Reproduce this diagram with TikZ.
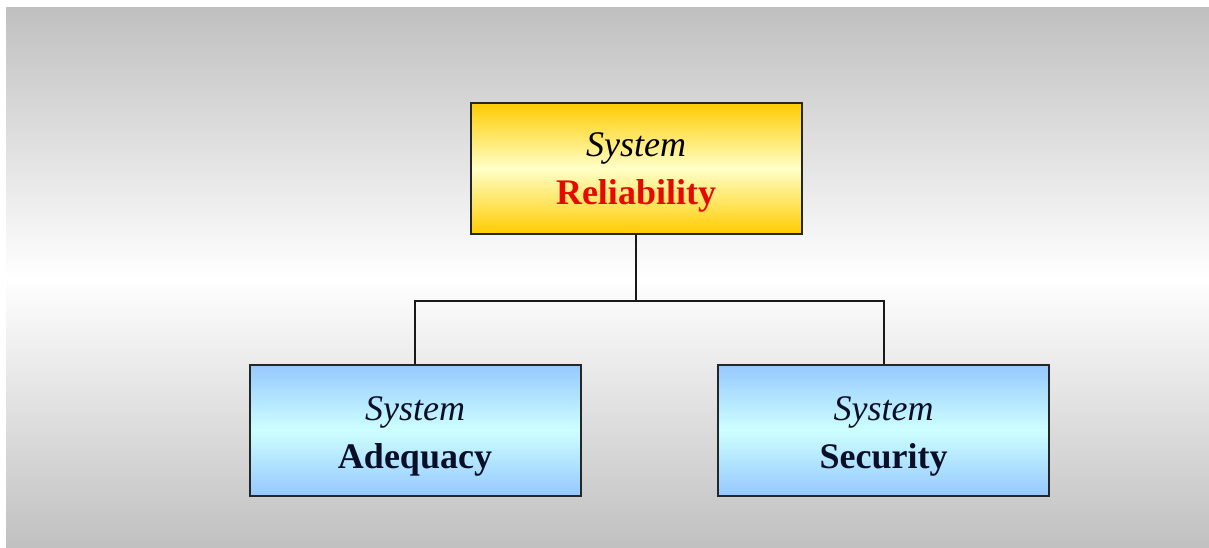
\documentclass[tikz,border=0pt]{standalone}
\usepackage{fontspec}
\setmainfont{Liberation Serif}
\definecolor{bggray}{RGB}{192,192,192}
\definecolor{goldedge}{RGB}{255,204,0}
\definecolor{goldmid}{RGB}{255,255,200}
\definecolor{blueedge}{RGB}{150,200,255}
\definecolor{bluemid}{RGB}{205,255,255}
\definecolor{relred}{RGB}{228,10,0}
\definecolor{navytext}{RGB}{10,15,40}
\begin{document}
\begin{tikzpicture}[x=1pt,y=-1pt,
  box/.style={draw=black!85, line width=2pt, minimum width=331pt, minimum height=131pt, inner sep=0pt},
  boxtext/.style={align=center, inner sep=0pt, font=\fontsize{36}{48}\selectfont},
  goldbox/.style={box, top color=goldedge, bottom color=goldedge, middle color=goldmid},
  bluebox/.style={box, top color=blueedge, bottom color=blueedge, middle color=bluemid},
  conn/.style={draw=black!90, line width=2pt}]
\useasboundingbox (0,0) rectangle (1209,548);
\fill[white] (0,0) rectangle (1209,548);
\shade[top color=bggray, bottom color=bggray, middle color=white] (6,8) rectangle (1209,548);
\node[goldbox] (rel) at (636,168.5) {};
\node[bluebox] (ade) at (415,430) {};
\node[bluebox] (sec) at (883.5,430) {};
\node[boxtext] (relt) at ([yshift=-4pt]rel.center) {\textit{System}\\\textbf{\color{relred}Reliability}};
\node[boxtext, text=navytext] (adet) at ([yshift=-6pt]ade.center) {\textit{System}\\\textbf{Adequacy}};
\node[boxtext, text=navytext] (sect) at ([yshift=-6pt]sec.center) {\textit{System}\\\textbf{Security}};
\coordinate (j) at (636,301);
\draw[conn] (rel.south) -- (j);
\draw[conn] (ade.north) -- (ade.north |- j) -- (sec.north |- j) -- (sec.north);
\end{tikzpicture}
\end{document}
